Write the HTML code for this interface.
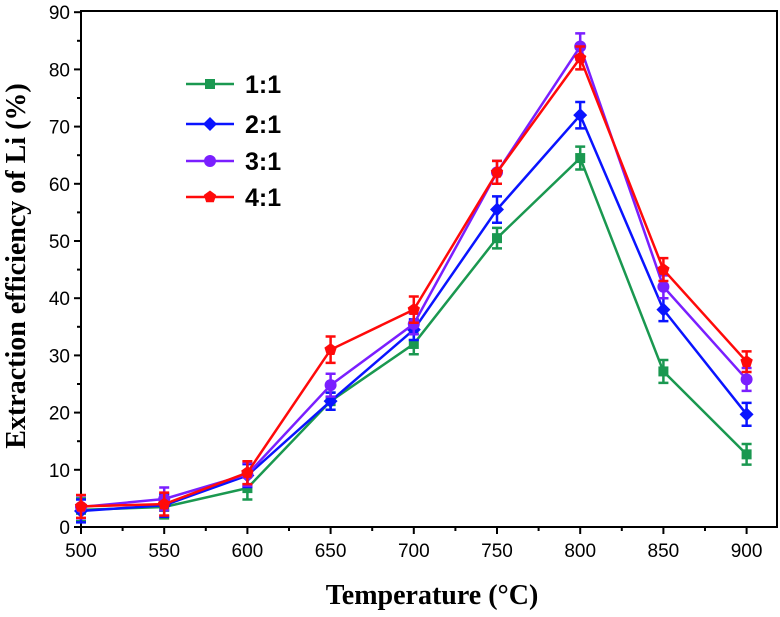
<!DOCTYPE html>
<html><head><meta charset="utf-8"><style>
body{margin:0;background:#fff;}
svg text{font-family:"Liberation Sans",sans-serif;}
</style></head><body>
<svg id="chart" width="780" height="612" xmlns="http://www.w3.org/2000/svg"></svg>
<script>
const categories=[500,550,600,650,700,750,800,850,900];
const s11=[3.0,3.5,6.8,22,32,50.5,64.5,27.2,12.7];
const s21=[2.8,3.8,9.0,22,34.5,55.5,72,38,19.7];
const s31=[3.5,4.9,9.2,24.8,35.5,62,84,42,25.8];
const s41=[3.6,4.0,9.5,31,38,62,82,45,28.9];
const err11=[2,2,2,1.5,1.8,1.8,2,2,1.8];
const err21=[2,2,2,1.5,1.8,2.3,2.3,2,2];
const err31=[2,2,2,2,1.8,2,2.3,2,2];
const err41=[2,2,2,2.3,2.3,2,2,2,1.8];
const yTicks=[0,10,20,30,40,50,60,70,80,90];
const seriesNames=["1:1","2:1","3:1","4:1"];
const svg=document.getElementById('chart');
const NS='http://www.w3.org/2000/svg';
const X0=81,X1=777,Y0=527,Y1=11;
const xs=v=>X0+(v-500)/50*83.2;
const ys=v=>Y0-v*5.72;
function mk(t,a,p){const e=document.createElementNS(NS,t);for(const k in a)e.setAttribute(k,a[k]);(p||svg).appendChild(e);return e;}
const frame=mk('rect',{x:X0,y:Y1,width:X1-X0,height:Y0-Y1,fill:'none',stroke:'#000','stroke-width':2});


categories.forEach((c,i)=>{
  const x=xs(c);
  const t=mk('line',{x1:x,y1:Y0,x2:x,y2:Y0+7,stroke:'#000','stroke-width':2});
  
  
  if(i<categories.length-1){const m=mk('line',{x1:x+41.6,y1:Y0,x2:x+41.6,y2:Y0+4,stroke:'#000','stroke-width':2});
  
  }
  const l=mk('text',{x:x,y:Y0+30,'text-anchor':'middle','font-size':19});l.textContent=c;
  
  
});
yTicks.forEach((v,i)=>{
  const y=ys(v);
  const t=mk('line',{x1:X0-7,y1:y,x2:X0,y2:y,stroke:'#000','stroke-width':2});
  
  
  if(i<yTicks.length-1){const m=mk('line',{x1:X0-4,y1:ys(v+5),x2:X0,y2:ys(v+5),stroke:'#000','stroke-width':2});
  
  }
  const l=mk('text',{x:X0-11,y:y+7,'text-anchor':'end','font-size':19});l.textContent=v;
  
  
});
const xt=mk('text',{x:432,y:604,'text-anchor':'middle','font-size':28,'font-weight':'bold',style:'font-family:"Liberation Serif",serif'});
xt.textContent='Temperature (°C)';


const yt=mk('text',{x:0,y:0,'text-anchor':'middle','font-size':28,'font-weight':'bold',transform:'translate(25,266) rotate(-90)',style:'font-family:"Liberation Serif",serif'});
yt.textContent='Extraction efficiency of Li (%)';


const colors=['#1a9850','#0a14ff','#7a1fff','#ff0a0a'];
const vals=[s11,s21,s31,s41],errs=[err11,err21,err31,err41];
function marker(k,x,y,c,g){
  if(k==0)return mk('rect',{x:x-5,y:y-5,width:10,height:10,fill:c},g);
  if(k==1)return mk('polygon',{points:`${x},${y-7} ${x+7},${y} ${x},${y+7} ${x-7},${y}`,fill:c},g);
  if(k==2)return mk('circle',{cx:x,cy:y,r:6,fill:c},g);
  const p=[];for(let j=0;j<5;j++){const a=-Math.PI/2+j*2*Math.PI/5;p.push((x+6.5*Math.cos(a))+','+(y+6.5*Math.sin(a)));}
  return mk('polygon',{points:p.join(' '),fill:c},g);
}
vals.forEach((s,k)=>{
  const g=mk('g',{});
  
  
  const pl=mk('polyline',{points:s.map((v,i)=>xs(categories[i])+','+ys(v)).join(' '),fill:'none',stroke:colors[k],'stroke-width':2.5},g);
  
  
  s.forEach((v,i)=>{
    const x=xs(categories[i]),e=errs[k][i];
    const eb=mk('path',{d:`M${x},${ys(v+e)}V${ys(v-e)}M${x-5},${ys(v+e)}H${x+5}M${x-5},${ys(v-e)}H${x+5}`,stroke:colors[k],'stroke-width':2.5,fill:'none'},g);
    
    
    const m=marker(k,x,ys(v),colors[k],g);
    
    
  });
});
const ly=[84,124,161,197];
seriesNames.forEach((n,k)=>{
  const g=mk('g',{});
  
  
  mk('line',{x1:186,y1:ly[k],x2:234,y2:ly[k],stroke:colors[k],'stroke-width':2.5},g);
  marker(k,210,ly[k],colors[k],g);
  const t=mk('text',{x:245,y:ly[k]+9,'font-size':25,'font-weight':'bold'},g);t.textContent=n;
});
</script>
</body></html>
